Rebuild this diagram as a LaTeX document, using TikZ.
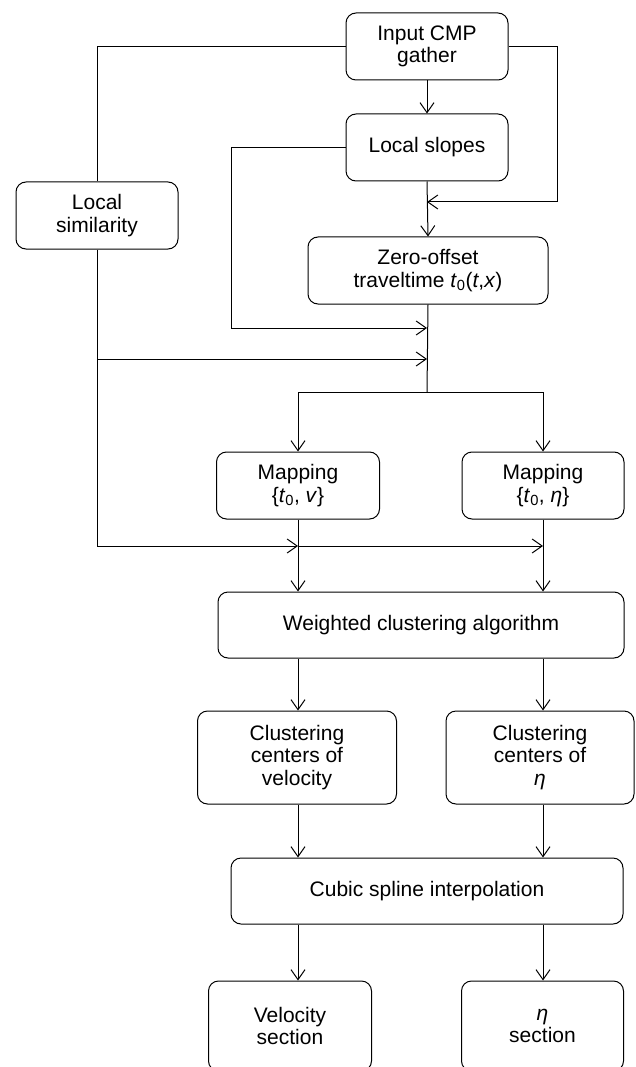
\documentclass[tikz,border=0pt]{standalone}
\usepackage{fontspec}
\setmainfont{Liberation Sans}
\usetikzlibrary{arrows.meta}
\begin{document}
\begin{tikzpicture}[x=1pt,y=-1pt,line width=1pt,
  box/.style={draw,rounded corners=10pt,align=center,inner sep=0pt,
    font=\fontsize{21}{22.5}\selectfont},
  >={Straight Barb[length=10pt,width=14pt]}]
\useasboundingbox (0,0) rectangle (635,1067);
\clip (0,0) rectangle (635,1067);
% nodes
\node[box,minimum width=162pt,minimum height=67pt] (in) at (427,46.5) {Input CMP\\gather};
\node[box,minimum width=162pt,minimum height=67pt] (sl) at (427,147.5) {Local slopes};
\node[box,minimum width=162pt,minimum height=67pt] (sim) at (97,215.5) {Local\\similarity};
\node[box,minimum width=240pt,minimum height=67pt] (zero) at (428,270.5) {Zero-offset\\traveltime \textit{t}\textsubscript{0}(\textit{t},\textit{x})};
\node[box,minimum width=163pt,minimum height=67pt] (mv) at (298,485.5) {Mapping\\\{\textit{t}\textsubscript{0}, \textit{v}\}};
\node[box,minimum width=162pt,minimum height=67pt] (me) at (543,485.5) {Mapping\\\{\textit{t}\textsubscript{0}, \textit{η}\}};
\node[box,minimum width=406pt,minimum height=66pt] (wca) at (421,625) {Weighted clustering algorithm};
\node[box,minimum width=199pt,minimum height=93pt] (cv) at (297,757.5) {Clustering\\centers of\\velocity};
\node[box,minimum width=188pt,minimum height=93pt] (ce) at (540,757.5) {Clustering\\centers of\\\textit{η}};
\node[box,minimum width=392pt,minimum height=66pt] (cub) at (427,891) {Cubic spline interpolation};
\node[box,minimum width=163pt,minimum height=90pt] (vs) at (290,1026) {Velocity\\section};
\node[box,minimum width=162pt,minimum height=90pt] (es) at (542.5,1026) {\textit{η}\\section};
% junction coordinates
\coordinate (j1) at (427,202);
\coordinate (j2) at (427,328);
\coordinate (j3) at (427,359);
\coordinate (jb) at (427,392);
\coordinate (jm1) at (298,546);
\coordinate (jm2) at (543,546);
% connectors
\draw[->] (in.south) -- (sl.north);
\draw (in.west) -| (sim.north);
\draw[->] (in.east) -- ++(49,0) |- (j1);
\draw[->] (sl.south) -- (zero.north);
\draw[->] (sl.west) -- ++(-114,0) |- (j2);
\draw (zero.south) -- (jb);
\draw (sim.south) -- (sim.south |- jm1);
\draw[->] (sim.south |- j3) -- (j3);
\draw[->] (sim.south |- jm1) -- (jm1);
\draw[->] (jm1) -- (jm2);
\draw[->] (jb) -| (mv.north);
\draw[->] (jb) -| (me.north);
\draw[->] (mv.south) -- (mv.south |- wca.north);
\draw[->] (me.south) -- (me.south |- wca.north);
\draw[->] (wca.south -| mv) -- (cv.north -| mv);
\draw[->] (wca.south -| me) -- (ce.north -| me);
\draw[->] (cv.south -| mv) -- (cub.north -| mv);
\draw[->] (ce.south -| me) -- (cub.north -| me);
\draw[->] (cub.south -| mv) -- (vs.north -| mv);
\draw[->] (cub.south -| me) -- (es.north -| me);
\end{tikzpicture}
\end{document}
